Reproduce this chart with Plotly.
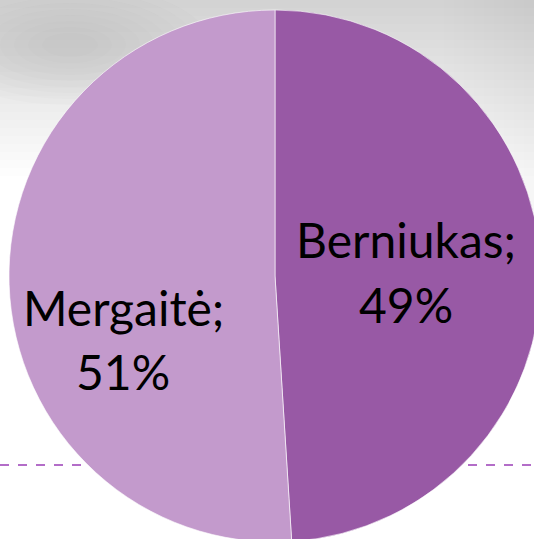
import plotly.graph_objects as go

labels = ["Berniukas", "Mergaitė"]
values = [49, 51]
colors = ["#9859A5", "#C39ACC"]

W, H = 541, 542

fig = go.Figure()
fig.add_trace(go.Pie(
    labels=labels, values=values, sort=False, direction="clockwise", rotation=0,
    marker=dict(colors=colors, line=dict(color="rgba(255,255,255,0.6)", width=1)),
    textinfo="none", hoverinfo="label+percent", showlegend=False,
    domain=dict(x=[9 / W, 1], y=[0, 1 - 10 / H]),
))

def px(x):
    return x / W

def py(y):
    return 1 - y / H

# label positions (pixels)
label_pos = [((406, 239), (406, 304)), ((124, 307), (123, 371))]
font = dict(family="Lato", size=48, color="#000000")
for (l1, l2), lab, v in zip(label_pos, labels, values):
    fig.add_annotation(x=px(l1[0]), y=py(l1[1]), xref="paper", yref="paper",
                       text=f"{lab};", showarrow=False, font=font,
                       xanchor="center", yanchor="middle")
    fig.add_annotation(x=px(l2[0]), y=py(l2[1]), xref="paper", yref="paper",
                       text=f"{v}%", showarrow=False, font=font,
                       xanchor="center", yanchor="middle")

shapes = []
# soft cloudy grey background texture near top
for h in range(8, 180, 8):
    shapes.append(dict(type="rect", xref="paper", yref="paper", x0=0, x1=1,
                       y0=py(h), y1=1, fillcolor="#8a8a8a", opacity=0.018,
                       line=dict(width=0), layer="below"))
for r in range(20, 110, 10):
    shapes.append(dict(type="circle", xref="paper", yref="paper", x0=px(70 - r * 1.4), x1=px(70 + r * 1.4),
                       y0=py(45 + r * 0.6), y1=py(45 - r * 0.6), fillcolor="#707070", opacity=0.025,
                       line=dict(width=0), layer="below"))
for w in range(10, 100, 10):
    shapes.append(dict(type="rect", xref="paper", yref="paper", x0=px(534 - w), x1=1,
                       y0=py(260), y1=1, fillcolor="#a0a0a0", opacity=0.012,
                       line=dict(width=0), layer="below"))
# dashed purple line
shapes.append(dict(type="line", xref="paper", yref="paper", x0=0, x1=1,
                   y0=py(465), y1=py(465), line=dict(color="#B36DC8", width=2, dash="dash"),
                   layer="below"))

fig.update_layout(
    width=W, height=H, margin=dict(l=0, r=0, t=0, b=0),
    paper_bgcolor="#FFFFFF", plot_bgcolor="#FFFFFF",
    shapes=shapes,
)

fig.write_html("out.html", config={"displayModeBar": False},
               post_script="document.body.style.margin='0';document.body.style.overflow='hidden';")
